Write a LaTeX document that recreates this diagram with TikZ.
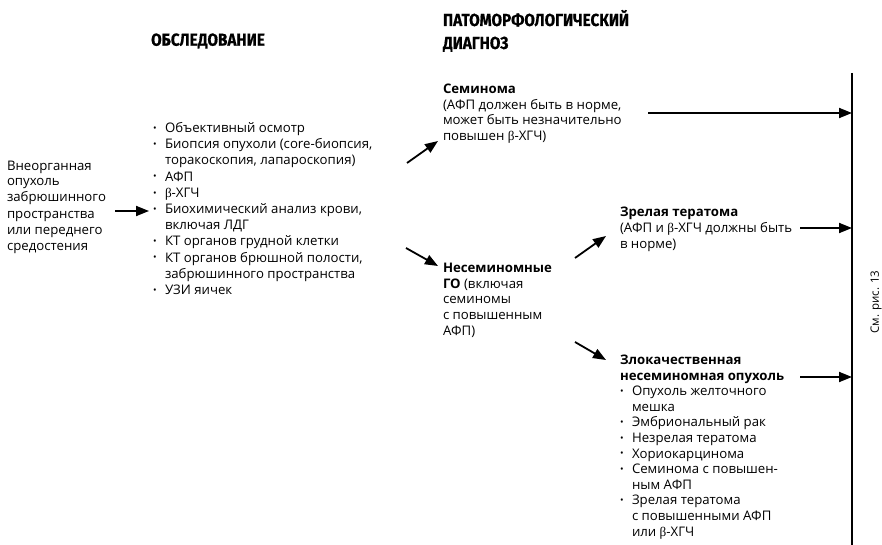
\documentclass[tikz,border=0pt]{standalone}
\usepackage{fontspec}
\setmainfont{Open Sans}
\newfontfamily\headfont[FakeStretch=0.88,FakeBold=0.6]{Fira Sans}
\newfontfamily\grkfont{Liberation Serif}
\usetikzlibrary{arrows.meta}
% Greek beta in a serif face, small bullet marks for the lists
\newcommand\bet{{\grkfont β}}
\newcommand\itm{\makebox[12pt][l]{\raisebox{1.2pt}{\fontsize{9.5}{9.5}\selectfont •}}}
\newcommand\cnt{\hspace*{12pt}}

% multi-line nodes below are placed by the baseline of their last line
\tikzset{
  every node/.style={inner sep=0pt, outer sep=0pt},
  body/.style={anchor=base west, align=left, font=\fontsize{13.2}{16}\selectfont},
  bodytight/.style={anchor=base west, align=left, font=\fontsize{13.2}{15.6}\selectfont},
  heading/.style={align=left, font=\headfont\bfseries\fontsize{17.4}{23}\selectfont},
  flow/.style={line width=1.8pt, -{Triangle[length=13pt,width=10pt]}},
  bar/.style={line width=2.4pt}
}

\begin{document}
\begin{tikzpicture}[x=1pt,y=-1pt]
\useasboundingbox (0,0) rectangle (882,545);

% column headings
\node[heading, anchor=center] (hexam) at (208,41) {ОБСЛЕДОВАНИЕ};
\node[heading, anchor=base west] (hdiag) at (443,49) {ПАТОМОРФОЛОГИЧЕСКИЙ\\ДИАГНОЗ};

% starting condition
\node[body] (start) at (7,250) {Внеорганная\\опухоль\\забрюшинного\\пространства\\или переднего\\средостения};

% examination list
\node[body, font=\fontsize{13.2}{16.2}\selectfont] (exam) at (153,294.5) {%
\itm Объективный осмотр\\
\itm Биопсия опухоли (core-биопсия,\\
\cnt торакоскопия, лапароскопия)\\
\itm АФП\\
\itm \bet-ХГЧ\\
\itm Биохимический анализ крови,\\
\cnt включая ЛДГ\\
\itm КТ органов грудной клетки\\
\itm КТ органов брюшной полости,\\
\cnt забрюшинного пространства\\
\itm УЗИ яичек};

% diagnoses
\node[bodytight] (sem) at (443,140.5) {\textbf{Семинома}\\(АФП должен быть в норме,\\может быть незначительно\\повышен \bet-ХГЧ)};
\node[bodytight] (nsem) at (443,335) {\textbf{Несеминомные}\\\textbf{ГО} (включая\\семиномы\\с повышенным\\АФП)};
\node[body] (mat) at (620,248) {\textbf{Зрелая тератома}\\(АФП и \bet-ХГЧ должны быть\\в норме)};
\node[bodytight] (mal) at (620,536) {\textbf{Злокачественная}\\\textbf{несеминомная опухоль}\\
\itm Опухоль желточного\\
\cnt мешка\\
\itm Эмбриональный рак\\
\itm Незрелая тератома\\
\itm Хориокарцинома\\
\itm Семинома с повышен-\\
\cnt ным АФП\\
\itm Зрелая тератома\\
\cnt с повышенными АФП\\
\cnt или \bet-ХГЧ};

% vertical collector bar and its label
\coordinate (bartop) at (852,73);
\coordinate (barbot) at (852,545);
\draw[bar] (bartop) -- (barbot);
\node[rotate=90, font=\fontsize{11.5}{13}\selectfont] (ref) at (876,302) {См. рис. 13};

% arrow end points
\coordinate (a0s) at (115,211);  \coordinate (a0e) at (149,211);
\coordinate (a1s) at (407,163);  \coordinate (a1e) at (438,141);
\coordinate (a2s) at (406,248);  \coordinate (a2e) at (438,266);
\coordinate (a3s) at (575,258);  \coordinate (a3e) at (606,236);
\coordinate (a4s) at (575,342);  \coordinate (a4e) at (606,360);
\coordinate (h1s) at (648,113);
\coordinate (h2s) at (800,228);
\coordinate (h3s) at (800,377);

\draw[flow] (a0s) -- (a0e);
\draw[flow] (a1s) -- (a1e);
\draw[flow] (a2s) -- (a2e);
\draw[flow] (a3s) -- (a3e);
\draw[flow] (a4s) -- (a4e);
\draw[flow] (h1s) -- (h1s -| bartop);
\draw[flow] (h2s) -- (h2s -| bartop);
\draw[flow] (h3s) -- (h3s -| bartop);
\end{tikzpicture}
\end{document}
